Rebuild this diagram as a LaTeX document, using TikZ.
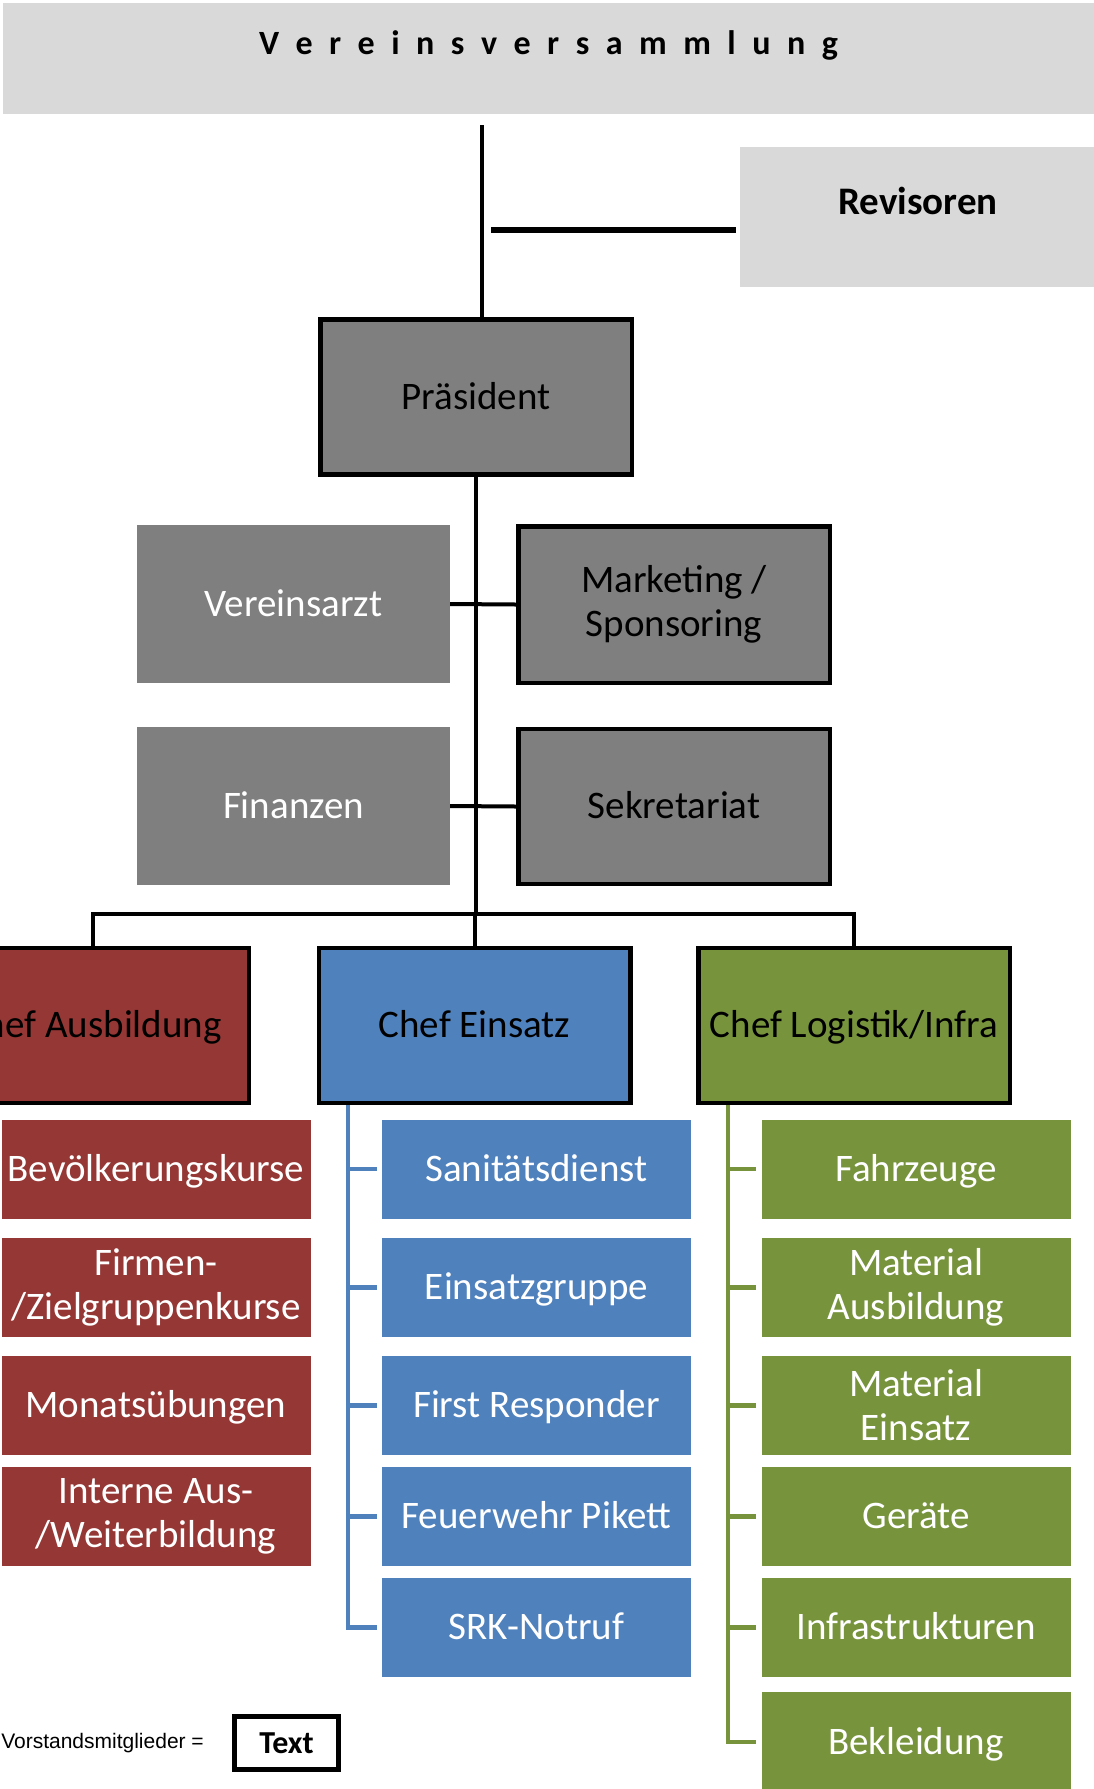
\documentclass[tikz,border=0pt]{standalone}
\usepackage{fontspec}
\setmainfont{Carlito}
\newfontfamily\arialfont{Liberation Sans}
\usetikzlibrary{calc}
\definecolor{lgray}{HTML}{D9D9D9}
\definecolor{mgray}{HTML}{7F7F7F}
\definecolor{cred}{HTML}{953735}
\definecolor{cblue}{HTML}{4F81BD}
\definecolor{cgreen}{HTML}{77933C}
\newcommand\lsp{\hspace{16.5pt}}
\begin{document}
\begin{tikzpicture}[x=1pt,y=-1pt,
  box/.style={rectangle, inner sep=0pt, align=center, font=\fontsize{39}{44}\selectfont},
  one/.style={text height=33pt, text depth=8.5pt},
  bbox/.style={box, draw=black, line width=4.5pt, minimum width=311.5pt, minimum height=155pt},
  gbox/.style={box, fill=mgray, minimum width=313pt, minimum height=158pt, text=white},
  sub/.style={box, minimum width=309pt, minimum height=99pt, text=white},
  conn/.style={line width=4pt, draw=black, line join=miter},
  bline/.style={line width=4.5pt, draw=cblue},
  gline/.style={line width=4.5pt, draw=cgreen}
]
\useasboundingbox (0,0) rectangle (1094,1789);
\clip (0,0) rectangle (1094,1789);

% top
\node[box, fill=lgray, minimum width=1091pt, minimum height=111pt,
      font=\bfseries\fontsize{34}{40}\selectfont, text height=20pt, text depth=28.5pt]
      (vv) at (548.5,58.5) {V\lsp e\lsp r\lsp e\lsp i\lsp n\lsp s\lsp v\lsp e\lsp r\lsp s\lsp a\lsp m\lsp m\lsp l\lsp u\lsp n\lsp g};
\node[box, fill=lgray, minimum width=360pt, minimum height=140pt,
      font=\bfseries\fontsize{39}{44}\selectfont, text height=30pt, text depth=35.5pt]
      (rev) at (920,217) {\hspace*{-4pt}Revisoren};

% board
\node[bbox, one, fill=mgray] (pres) at (476,397) {Präsident};
\node[gbox, one] (va) at (293.5,604) {Vereinsarzt};
\node[bbox, fill=mgray, minimum height=156.5pt] (mk) at (674,604.5) {Marketing /\\Sponsoring};
\node[gbox, one] (fi) at (293.5,806) {Finanzen};
\node[bbox, one, fill=mgray] (sk) at (674,806.5) {Sekretariat};

% chefs
\node[bbox, one, fill=cred] (ca) at (93,1025.5) {Chef Ausbildung};
\node[bbox, one, fill=cblue] (ce) at (474.5,1025.5) {Chef Einsatz};
\node[bbox, one, fill=cgreen] (cl) at (854,1025.5) {Chef Logistik/Infra};

% red column
\node[sub, one, fill=cred] (r1) at (156,1169) {Bevölkerungskurse};
\node[sub, fill=cred] (r2) at (156,1287.5) {Firmen-\\/Zielgruppenkurse};
\node[sub, one, fill=cred] (r3) at (156,1405.5) {Monatsübungen};
\node[sub, fill=cred] (r4) at (156,1516.5) {Interne Aus-\\/Weiterbildung};

% blue column
\node[sub, one, fill=cblue] (b1) at (536.5,1169) {Sanitätsdienst};
\node[sub, one, fill=cblue] (b2) at (536.5,1287.5) {Einsatzgruppe};
\node[sub, one, fill=cblue] (b3) at (536.5,1405.5) {First Responder};
\node[sub, one, fill=cblue] (b4) at (536.5,1516.5) {Feuerwehr Pikett};
\node[sub, one, fill=cblue] (b5) at (536.5,1627.5) {SRK-Notruf};

% green column
\node[sub, one, fill=cgreen] (g1) at (916,1169) {Fahrzeuge};
\node[sub, fill=cgreen] (g2) at (916,1287.5) {Material\\Ausbildung};
\node[sub, fill=cgreen] (g3) at (916,1405.5) {Material\\Einsatz};
\node[sub, one, fill=cgreen] (g4) at (916,1516.5) {Geräte};
\node[sub, one, fill=cgreen] (g5) at (916,1627.5) {Infrastrukturen};
\node[sub, one, fill=cgreen, minimum height=100pt] (g6) at (916,1742) {Bekleidung};

% legend
\node[font=\arialfont\fontsize{21}{24}\selectfont, anchor=east, inner sep=0pt] (leg) at (204,1743) {Vorstandsmitglieder =};
\node[draw=black, line width=5pt, fill=white, minimum width=104pt, minimum height=53pt, inner sep=0pt,
      font=\bfseries\fontsize{32}{36}\selectfont] (lt) at (286.5,1743) {Text};

% connectors
\coordinate (topc) at (482,125);
\draw[conn] (topc) -- (topc |- pres.north);
\coordinate (revc) at (491,230);
\draw[line width=6pt] (revc) -- ($(rev.west |- revc)+(-4,0)$);
\coordinate (bus) at (476,914);
\draw[conn] (pres.south) -- (bus);
\draw[conn] (ca.north) |- (bus) -| (cl.north);
\draw[conn] (ce.north) -- (ce.north |- bus);
\draw[conn] (va.east) -- (mk.west);
\draw[conn] (fi.east) -- (sk.west);

\coordinate (bl) at (348,1104);
\draw[bline] (ce.south -| bl) -- (bl |- b5.west) -- ($(b5.west)+(-5,0)$);
\foreach \n in {b1,b2,b3,b4}{\draw[bline] (bl |- \n.west) -- ($(\n.west)+(-5,0)$);}
\coordinate (gl) at (728,1104);
\draw[gline] (cl.south -| gl) -- (gl |- g6.west) -- ($(g6.west)+(-5,0)$);
\foreach \n in {g1,g2,g3,g4,g5}{\draw[gline] (gl |- \n.west) -- ($(\n.west)+(-5,0)$);}
\end{tikzpicture}
\end{document}
